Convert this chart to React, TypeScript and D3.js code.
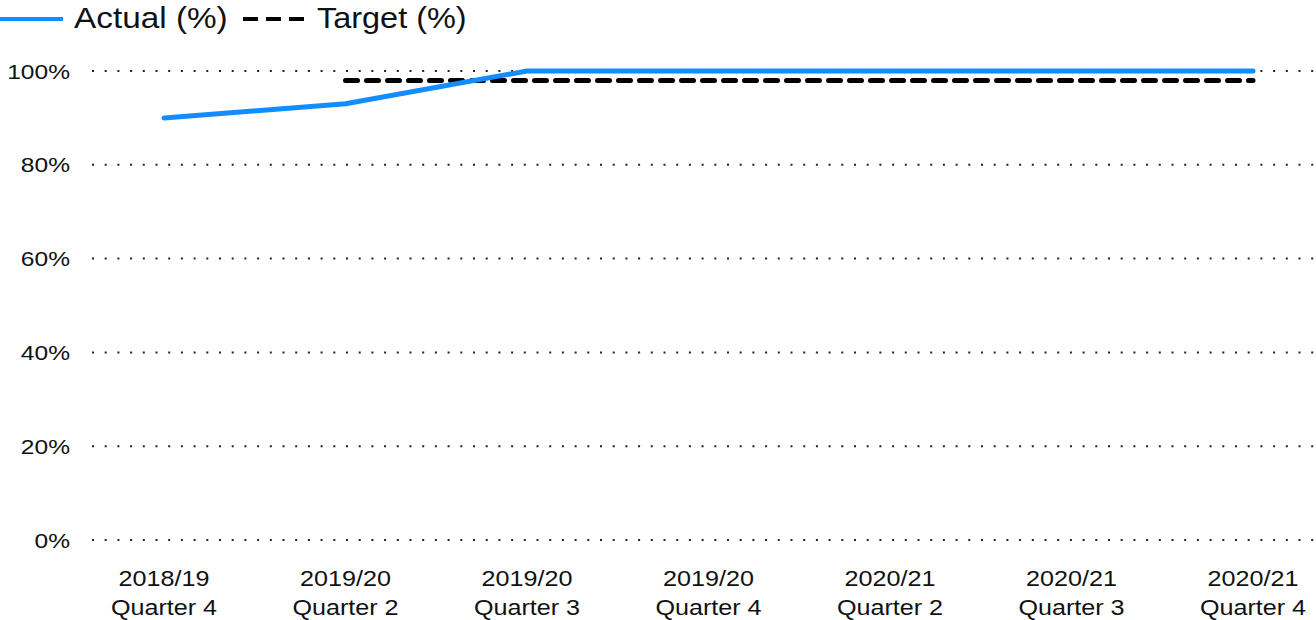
import React from 'react';
import { scaleLinear, scalePoint, line as d3Line } from 'd3';

// chart data
const categories = [
  '2018/19 Quarter 4',
  '2019/20 Quarter 2',
  '2019/20 Quarter 3',
  '2019/20 Quarter 4',
  '2020/21 Quarter 2',
  '2020/21 Quarter 3',
  '2020/21 Quarter 4',
];
const actualValues: Array<number | null> = [90, 93, 100, 100, 100, 100, 100];
const targetValues: Array<number | null> = [null, 98, 98, 98, 98, 98, 98];
const yTicks = [0, 20, 40, 60, 80, 100];

const WIDTH = 1316;
const HEIGHT = 620;
const FONT = '"Liberation Sans", Arial, sans-serif';
const TEXT_COLOR = '#111';
const ACTUAL_COLOR = '#118DFF';
const TARGET_COLOR = '#000';
const STRETCH = 1.17; // text in the reference is a bit wider than Arial

const x = scalePoint<string>().domain(categories).range([164, 1253]);
const y = scaleLinear().domain([0, 100]).range([540, 71]);

const makePath = (values: Array<number | null>) =>
  d3Line<number | null>()
    .defined((d) => d !== null)
    .x((_, i) => x(categories[i]) as number)
    .y((d) => y(d as number))(values) || '';

export default function App() {
  return (
    <svg
      width={WIDTH}
      height={HEIGHT}
      style={{ position: 'fixed', left: 0, top: 0, display: 'block', background: '#fff' }}
      fontFamily={FONT}
    >
      {/* legend */}
      <g>
        <line x1={0} x2={63} y1={19} y2={19} stroke={ACTUAL_COLOR} strokeWidth={4} />
        <text
          transform={`translate(74,27.5) scale(1.13,1)`}
          fontSize={29.5}
          fill={TEXT_COLOR}
        >
          Actual (%)
        </text>
        <line
          x1={243}
          x2={304}
          y1={19}
          y2={19}
          stroke={TARGET_COLOR}
          strokeWidth={4}
          strokeDasharray="15 8"
        />
        <text
          transform={`translate(317,27.5) scale(1.1,1)`}
          fontSize={29.5}
          fill={TEXT_COLOR}
        >
          Target (%)
        </text>
      </g>

      {/* y grid + labels */}
      {yTicks.map((t) => (
        <g key={t}>
          <line
            x1={92}
            x2={WIDTH}
            y1={y(t)}
            y2={y(t)}
            stroke="#222"
            strokeWidth={2}
            strokeDasharray="2 10.7"
          />
          <text
            transform={`translate(70,${y(t) + 7.5}) scale(${STRETCH},1)`}
            textAnchor="end"
            fontSize={21}
            fill={TEXT_COLOR}
          >
            {t}%
          </text>
        </g>
      ))}

      {/* x labels */}
      {categories.map((c) => {
        const [year, ...rest] = c.split(' ');
        return (
          <g key={c} transform={`translate(${x(c)},0)`}>
            <text
              transform={`translate(0,586) scale(${STRETCH},1)`}
              textAnchor="middle"
              fontSize={21.5}
              fill={TEXT_COLOR}
            >
              {year}
            </text>
            <text
              transform={`translate(0,615) scale(${STRETCH},1)`}
              textAnchor="middle"
              fontSize={21.5}
              fill={TEXT_COLOR}
            >
              {rest.join(' ')}
            </text>
          </g>
        );
      })}

      {/* series */}
      <path
        d={makePath(targetValues)}
        fill="none"
        stroke={TARGET_COLOR}
        strokeWidth={5}
        strokeLinecap="round"
        strokeDasharray="12 9"
      />
      <path
        d={makePath(actualValues)}
        fill="none"
        stroke={ACTUAL_COLOR}
        strokeWidth={5}
        strokeLinecap="round"
        strokeLinejoin="round"
      />
    </svg>
  );
}
